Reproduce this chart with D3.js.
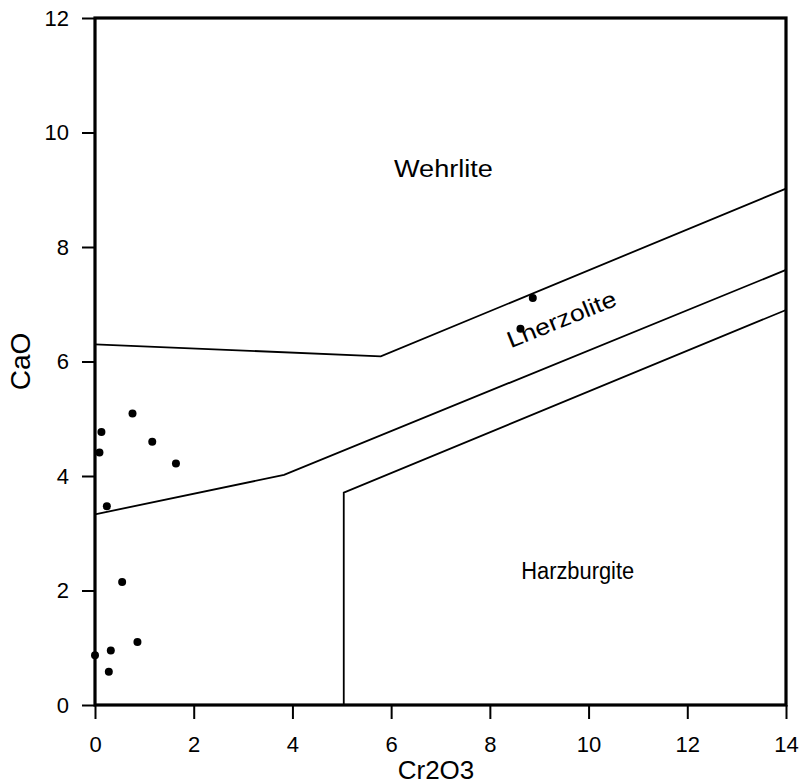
<!DOCTYPE html>
<html>
<head>
<meta charset="utf-8">
<script src="https://cdn.jsdelivr.net/npm/d3@7"></script>
<style>
  body { margin: 0; background: #fff; }
  svg text { font-family: Arial, "Liberation Sans", sans-serif; fill: #000; }
</style>
</head>
<body>
<svg width="799" height="784"></svg>
<script>
// data -----------------------------------------------------------------
var xTicks = [0, 2, 4, 6, 8, 10, 12, 14];
var yTicks = [0, 2, 4, 6, 8, 10, 12];

// samples (Cr2O3, CaO)
var sampleCr = [0.76, 0.13, 0.09, 1.16, 1.64, 0.24, 0.55, 0.86, 0.32, 0.0, 0.28, 8.87, 8.62];
var sampleCa = [5.09, 4.77, 4.41, 4.60, 4.22, 3.47, 2.15, 1.10, 0.95, 0.87, 0.58, 7.11, 6.57];

// field boundaries
var upperLine = [[0, 6.30], [5.79, 6.09], [14, 9.02]];
var middleLine = [[0, 3.33], [3.83, 4.02], [14, 7.60]];
var lowerLine = [[5.04, 0], [5.04, 3.71], [14, 6.90]];

var fieldNames = ['Wehrlite', 'Lherzolite', 'Harzburgite'];
var fieldPos = [[7.06, 9.37], [9.45, 6.74], [9.78, 2.35]];

// setup ---------------------------------------------------------------
var svg = d3.select('svg');
var plotLeft = 95, plotRight = 786, plotTop = 18, plotBottom = 705;

var x = d3.scaleLinear().domain([0, 14]).range([plotLeft, plotRight]);
var y = d3.scaleLinear().domain([0, 12]).range([plotBottom, plotTop]);

var plot = svg.append('g').classed('plot', true);

// boundaries
var line = d3.line().x(d => x(d[0])).y(d => y(d[1]));
[upperLine, middleLine, lowerLine].forEach(function(l) {
    plot.append('path')
        .attr('d', line(l))
        .style('fill', 'none')
        .style('stroke', '#000')
        .style('stroke-width', 1.8);
});

// points
plot.selectAll('circle.sample')
    .data(sampleCr.map((c, i) => [c, sampleCa[i]]))
    .enter()
    .append('circle')
    .classed('sample', true)
    .attr('cx', d => x(d[0]))
    .attr('cy', d => y(d[1]))
    .attr('r', 4)
    .style('fill', '#000');

// field labels
var labelLen = [99, 116, 113];
var labelRot = [0, -22, 0];
plot.selectAll('text.field')
    .data(fieldNames)
    .enter()
    .append('text')
    .classed('field', true)
    .attr('transform', (d, i) => 'translate(' + x(fieldPos[i][0]) + ',' + y(fieldPos[i][1]) + ') rotate(' + labelRot[i] + ')')
    .attr('text-anchor', 'middle')
    .attr('dy', '0.35em')
    .attr('textLength', (d, i) => labelLen[i])
    .attr('lengthAdjust', 'spacingAndGlyphs')
    .style('font-size', '23px')
    .text(d => d);

// axes ----------------------------------------------------------------
var xAxis = svg.append('g')
    .attr('transform', 'translate(0,' + plotBottom + ')')
    .call(d3.axisBottom(x).tickValues(xTicks).tickSize(14).tickPadding(17).tickSizeOuter(0));

var yAxis = svg.append('g')
    .attr('transform', 'translate(' + plotLeft + ',0)')
    .call(d3.axisLeft(y).tickValues(yTicks).tickSize(13).tickPadding(13).tickSizeOuter(0));

[xAxis, yAxis].forEach(function(a) {
    a.select('.domain').remove();
    a.selectAll('line').style('stroke', '#000').style('stroke-width', 2);
    a.selectAll('text').style('font-size', '22px').style('font-family', 'Arial, "Liberation Sans", sans-serif');
});

// frame
svg.append('rect')
    .attr('x', plotLeft)
    .attr('y', plotTop)
    .attr('width', plotRight - plotLeft)
    .attr('height', plotBottom - plotTop)
    .style('fill', 'none')
    .style('stroke', '#000')
    .style('stroke-width', 3.2);

// axis titles
svg.append('text')
    .attr('x', 436)
    .attr('y', 779)
    .attr('text-anchor', 'middle')
    .style('font-size', '26px')
    .text('Cr2O3');

svg.append('text')
    .attr('transform', 'translate(30,' + ((plotTop + plotBottom) / 2) + ') rotate(-90)')
    .attr('text-anchor', 'middle')
    .style('font-size', '28px')
    .text('CaO');
</script>
</body>
</html>
